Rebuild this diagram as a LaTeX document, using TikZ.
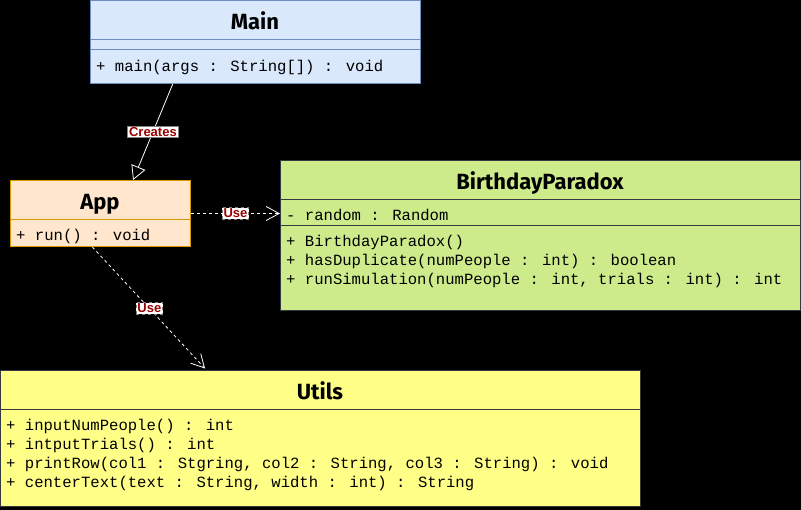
\documentclass[tikz,border=0pt]{standalone}
\usepackage{fontspec}
\usetikzlibrary{arrows.meta,calc}
\newfontfamily\titlefont{Fira Sans}
\newfontfamily\memberfont{Liberation Mono}
\newfontfamily\labelfont{Liberation Sans}
\definecolor{mainfill}{RGB}{218,232,252}
\definecolor{mainline}{RGB}{108,142,191}
\definecolor{appfill}{RGB}{255,230,204}
\definecolor{appline}{RGB}{215,155,0}
\definecolor{bpfill}{RGB}{205,235,139}
\definecolor{utilfill}{RGB}{255,255,136}
\definecolor{darkline}{RGB}{54,57,61}
\definecolor{labelred}{RGB}{153,0,0}

\begin{document}
\begin{tikzpicture}[x=1pt,y=-1pt]
  \tikzstyle{classbox}=[rectangle, line width=1pt, inner sep=0pt, anchor=north west]
  \tikzstyle{title}=[anchor=base, inner sep=0pt, font=\titlefont\bfseries\fontsize{22}{26}\selectfont]
  \tikzstyle{member}=[anchor=base west, inner sep=0pt, font=\memberfont\fontsize{15.6}{19}\selectfont]
  \tikzstyle{tag}=[fill=white, draw=gray, inner sep=1.2pt, text=labelred, font=\labelfont\bfseries\fontsize{13}{15}\selectfont]
  \tikzstyle{creates}=[draw=white, line width=0.8pt, -{Triangle[open,length=14pt,width=15pt]}]
  \tikzstyle{uses}=[draw=white, line width=0.8pt, dash pattern=on 3pt off 3pt, -{Straight Barb[length=13pt,width=14pt]}]

  \useasboundingbox (0,0) rectangle (801,510);
  \fill[black] (0,0) rectangle (801,510);

  % Main
  \node[classbox, fill=mainfill, draw=mainline, minimum width=330pt, minimum height=83pt] (main) at (90,0) {};
  \draw[mainline, line width=1pt] (90,40) -- (420,40) (90,50) -- (420,50);
  \node[title] (maint) at (255,30) {Main};
  \node[member] (mainm1) at (96,72) {+ main(args : String[]) : void};

  % App
  \node[classbox, fill=appfill, draw=appline, minimum width=180pt, minimum height=66pt] (app) at (10,180) {};
  \draw[appline, line width=1pt] (10,220) -- (190,220);
  \node[title] (appt) at (100,210) {App};
  \node[member] (appm1) at (16,241) {+ run() : void};

  % BirthdayParadox
  \node[classbox, fill=bpfill, draw=darkline, minimum width=520pt, minimum height=150pt] (bp) at (280,160) {};
  \draw[darkline, line width=1pt] (280,200) -- (800,200) (280,226) -- (800,226);
  \node[title] (bpt) at (540,190) {BirthdayParadox};
  \node[member] (bpa1) at (286,221) {- random : Random};
  \node[member] (bpm1) at (286,247) {+ BirthdayParadox()};
  \node[member] (bpm2) at (286,266) {+ hasDuplicate(numPeople : int) : boolean};
  \node[member] (bpm3) at (286,285) {+ runSimulation(numPeople : int, trials : int) : int};

  % Utils
  \node[classbox, fill=utilfill, draw=darkline, minimum width=640pt, minimum height=136pt] (utils) at (0,370) {};
  \draw[darkline, line width=1pt] (0,410) -- (640,410);
  \node[title] (utilst) at (320,400) {Utils};
  \node[member] (utm1) at (6,431) {+ inputNumPeople() : int};
  \node[member] (utm2) at (6,450) {+ intputTrials() : int};
  \node[member] (utm3) at (6,469) {+ printRow(col1 : Stgring, col2 : String, col3 : String) : void};
  \node[member] (utm4) at (6,488) {+ centerText(text : String, width : int) : String};

  % relations
  \draw[creates] ($(main.south west)!0.25!(main.south east)$) -- ($(app.north west)!0.68!(app.north east)$)
    node[tag, midway] (lcreates) {Creates};
  \draw[uses] (app.east) -- (app.east -| bp.west)
    node[tag, midway] (luse1) {Use};
  \draw[uses, shorten >=2pt] ($(app.south west)!0.455!(app.south east)$) -- ($(utils.north west)!0.322!(utils.north east)$)
    node[tag, midway] (luse2) {Use};
\end{tikzpicture}
\end{document}
